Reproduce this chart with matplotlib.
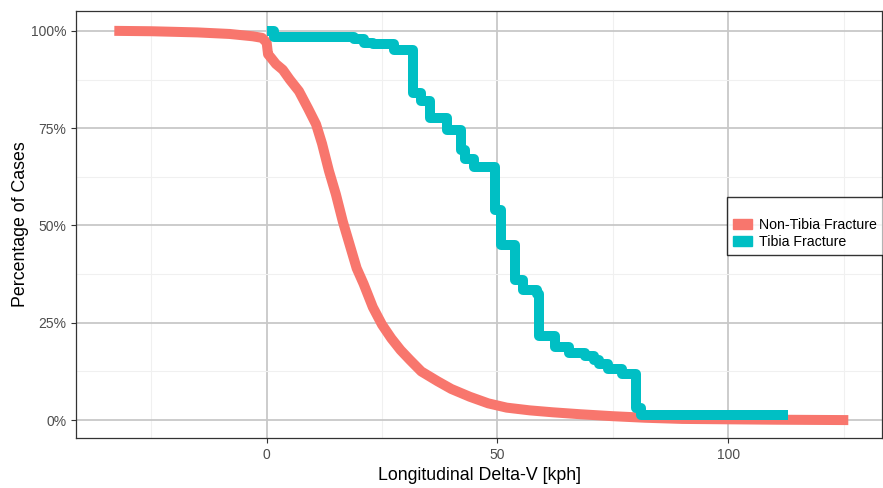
import matplotlib.pyplot as plt
from matplotlib.patches import Patch
import numpy as np

plt.rcParams['font.family'] = ['Liberation Sans', 'DejaVu Sans']

red = '#F8766D'
teal = '#00BFC4'

# Non-Tibia Fracture curve (many small steps, drawn as a line)
non_x = [-33, -25, -15, -8, -3, -1, 0, 0.3, 1, 2, 3.5, 5, 7, 9, 10.7, 12, 13.5, 15,
         16.5, 18, 19.5, 21, 23, 25, 27, 29, 31, 33.5, 37, 40, 44, 48, 52, 57, 62,
         68, 75, 82, 90, 100, 110, 126]
non_y = [100, 99.9, 99.6, 99.2, 98.6, 98.2, 97, 94, 93, 91.5, 90, 87.5, 84.5, 80, 76,
         71, 64, 58, 51, 45, 39, 35, 29, 24.5, 21, 18, 15.5, 12.5, 10, 8, 6, 4.3, 3.2,
         2.5, 2, 1.5, 1, 0.6, 0.3, 0.2, 0.1, 0]

# Tibia Fracture curve (step function)
tib_x = [0, 1.5, 19, 21, 23, 27.5, 31.7, 33.5, 35.3, 39, 42, 43, 45, 49.5, 50.8,
         53.8, 55.5, 58.5, 59, 62.5, 65.5, 69, 71, 72, 74, 77, 80, 81, 113]
tib_y = [100, 98.5, 97.8, 97, 96.5, 95, 84, 82, 77.5, 74.5, 69.5, 67, 65, 54, 45,
         36, 33.5, 32.5, 21.5, 18.8, 17.2, 16.5, 15.5, 14.5, 13, 11.8, 3, 1.3, 1.3]

labels = ['Non-Tibia Fracture', 'Tibia Fracture']

fig = plt.figure(figsize=(8.83, 4.88), dpi=100)
ax = fig.add_axes([76/883, 50/488, 806/883, 427/488])

ax.plot(non_x, non_y, color=red, lw=7.2, solid_capstyle='butt', solid_joinstyle='round', zorder=3)
ax.step(tib_x, tib_y, where='post', color=teal, lw=7.2, solid_capstyle='butt',
        solid_joinstyle='round', zorder=4)

ax.set_xlim(-41.3, 133.3)
ax.set_ylim(-4.6, 105.1)
ax.set_xticks([0, 50, 100])
ax.set_xticks([-25, 25, 75, 125], minor=True)
ax.set_yticks([0, 25, 50, 75, 100])
ax.set_yticklabels(['0%', '25%', '50%', '75%', '100%'])
ax.set_yticks([12.5, 37.5, 62.5, 87.5], minor=True)
ax.grid(which='major', color='#C8C8C8', lw=1.3, zorder=0)
ax.grid(which='minor', color='#F0F0F0', lw=0.8, zorder=0)
ax.set_axisbelow(True)
ax.tick_params(which='major', length=3.5, color='#333333', labelsize=10, labelcolor='#4D4D4D')
ax.tick_params(which='minor', length=0)
for s in ax.spines.values():
    s.set_color('#333333')
    s.set_linewidth(0.9)

ax.set_xlabel('Longitudinal Delta-V [kph]', fontsize=12.8, labelpad=4)
ax.set_ylabel('Percentage of Cases', fontsize=12.8, labelpad=1)

handles = [Patch(color=red), Patch(color=teal)]
leg = fig.legend(handles, labels, loc='upper left', bbox_to_anchor=(727/883, 1 - 197/488),
                 title=' ', title_fontsize=9, fontsize=10.2, frameon=True, fancybox=False,
                 edgecolor='black', handlelength=1.3, handleheight=0.7, handletextpad=0.5,
                 labelspacing=0.2, borderpad=0.45, borderaxespad=0)
leg.get_frame().set_linewidth(1.0)

fig.savefig('out.png', dpi=100)
